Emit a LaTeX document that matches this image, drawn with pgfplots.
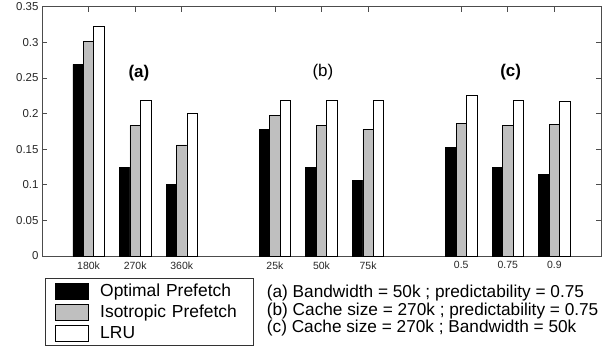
\documentclass[border=0pt]{standalone}
\usepackage{pgfplots}
\pgfplotsset{compat=1.18}
\usepackage{pgfplotstable}
\usepackage{fontspec}
\setmainfont{Liberation Sans}
\definecolor{barg}{gray}{0.75}
\pgfplotstableread{
x opt iso lru
1 0.269 0.301 0.322
2 0.124 0.183 0.219
3 0.101 0.156 0.200
5 0.178 0.1975 0.2185
6 0.124 0.183 0.2185
7 0.106 0.178 0.2185
9 0.1525 0.186 0.225
10 0.124 0.183 0.219
11 0.114 0.185 0.2175
}\datatable
\begin{document}
\begin{tikzpicture}[x=1bp,y=1bp]
\useasboundingbox (0,0) rectangle (612,350);
\begin{axis}[
  at={(42bp,94bp)}, anchor=south west,
  width=559bp, height=249.3bp, scale only axis,
  xmin=0, xmax=12, ymin=0, ymax=0.35,
  xtick={1,2,3,5,6,7,9,10,11},
  xticklabels={180k,270k,360k,25k,50k,75k,0.5,0.75,0.9},
  ytick={0,0.05,0.1,0.15,0.2,0.25,0.3,0.35},
  yticklabels={0,0.05,0.1,0.15,0.2,0.25,0.3,0.35},
  tick align=inside,
  major tick length=5bp,
  xtick pos=upper, xticklabel pos=lower,
  ytick pos=both, yticklabel pos=left,
  axis line style={black!70, line width=0.8bp},
  every tick/.style={black!70, line width=0.8bp},
  xticklabel style={font=\fontsize{10.5}{12}\selectfont, text=black!85, yshift=-2bp},
  yticklabel style={font=\fontsize{11.5}{12}\selectfont, text=black!85},
  legend style={at={(0.0054,-0.0894)}, anchor=north west, draw=black!80, line width=0.8bp,
    inner xsep=10bp, inner ysep=4bp, row sep=4.3bp, column sep=11bp,
    nodes={inner sep=0pt, text width=143bp, align=left},
    font=\fontsize{17.5}{18}\selectfont},
  legend cell align=left,
  legend image code/.code={\draw[#1, line width=0.8bp] (0bp,-8bp) rectangle (33bp,8bp);},
]
\addplot[ybar, bar width=0.225, bar shift=-0.225, fill=black, draw=black, line width=0.7bp] table[x=x,y=opt] {\datatable};
\addlegendentry{Optimal Prefetch}
\addplot[ybar, bar width=0.225, bar shift=0, fill=barg, draw=black, line width=0.7bp] table[x=x,y=iso] {\datatable};
\addlegendentry{Isotropic Prefetch}
\addplot[ybar, bar width=0.225, bar shift=0.225, fill=white, draw=black, line width=0.7bp] table[x=x,y=lru] {\datatable};
\addlegendentry{LRU}
\node[font=\bfseries\fontsize{17}{17}\selectfont] at (axis cs:2.08,0.257) {(a)};
\node[font=\fontsize{17}{17}\selectfont] at (axis cs:6.03,0.2575) {(b)};
\node[font=\bfseries\fontsize{17}{17}\selectfont] at (axis cs:10.06,0.2575) {(c)};
\end{axis}
\node[anchor=north west, inner sep=0pt, align=left, font=\fontsize{17.3}{17.5}\selectfont] at (266.7,64.7)
  {(a) Bandwidth = 50k ; predictability = 0.75\\(b) Cache size = 270k ; predictability = 0.75\\(c) Cache size = 270k ; Bandwidth = 50k};
\end{tikzpicture}
\end{document}
